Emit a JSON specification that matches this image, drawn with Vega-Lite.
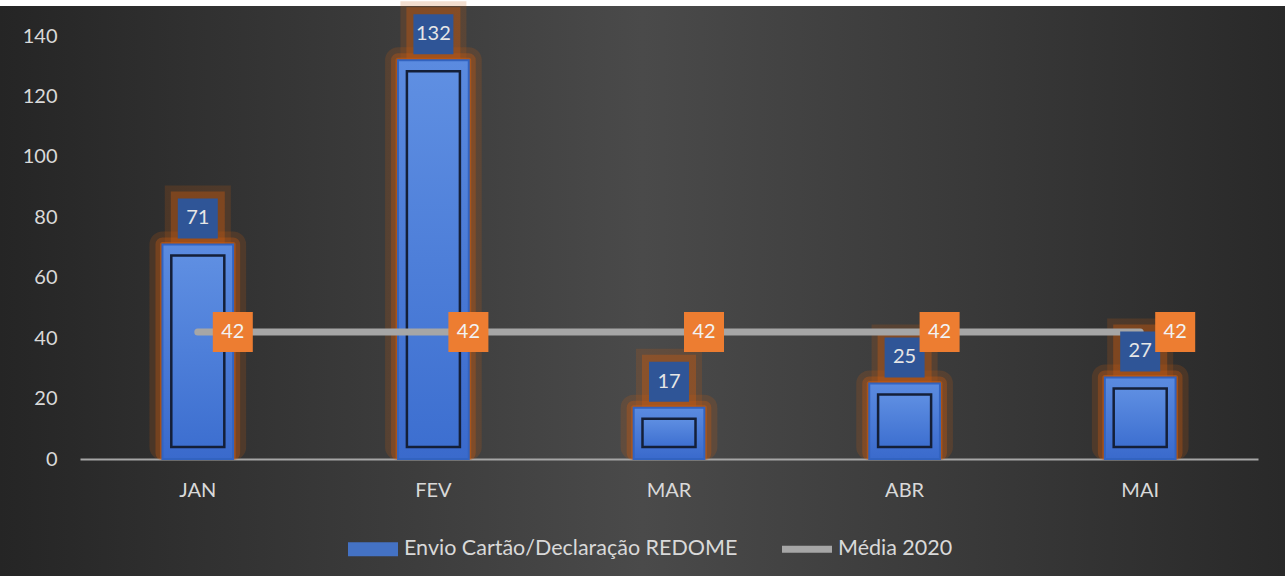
{
  "$schema": "https://vega.github.io/schema/vega-lite/v6.json",
  "autosize": {"type": "none"},
  "padding": {"left": 0, "top": 6, "right": 3, "bottom": 2},
  "width": 1285,
  "height": 570,
  "background": "#ffffff",
  "config": {
    "font": "Lato",
    "view": {
      "stroke": null,
      "fill": {
        "gradient": "linear", "x1": 0, "y1": 0.5, "x2": 1, "y2": 0.5,
        "stops": [
          {"offset": 0, "color": "#252525"},
          {"offset": 0.5, "color": "#4a4a4a"},
          {"offset": 1, "color": "#292929"}
        ]
      }
    }
  },
  "data": {
    "values": [
      {"mes": "JAN", "envio": 71, "media": 42},
      {"mes": "FEV", "envio": 132, "media": 42},
      {"mes": "MAR", "envio": 17, "media": 42},
      {"mes": "ABR", "envio": 25, "media": 42},
      {"mes": "MAI", "envio": 27, "media": 42}
    ]
  },
  "encoding": {
    "x": {
      "field": "mes", "type": "ordinal", "sort": null,
      "scale": {"range": [80, 1258], "paddingInner": 0.7, "paddingOuter": 0.35},
      "axis": {
        "title": null, "labelAngle": 0, "offset": -117, "ticks": false,
        "domainColor": "#a6a6a6", "domainWidth": 2, "labelColor": "#d9d9d9",
        "labelFontSize": 20, "labelPadding": 21
      }
    }
  },
  "layer": [
    {
      "mark": {"type": "bar", "width": {"band": 1}, "fill": "#c55a11", "fillOpacity": 0.25, "stroke": "#c55a11", "strokeWidth": 26, "strokeOpacity": 0.2, "strokeJoin": "round", "y2Offset": -12},
      "encoding": {
        "y": {
          "field": "envio", "type": "quantitative",
          "scale": {"domain": [0, 140], "range": [453, 30], "nice": false},
          "axis": {
            "title": null, "values": [0, 20, 40, 60, 80, 100, 120, 140], "grid": false,
            "domain": false, "ticks": false, "offset": -62, "labelPadding": 5,
            "labelColor": "#d9d9d9", "labelFontSize": 20
          }
        },
        "y2": {"datum": 0}
      }
    },
    {
      "mark": {"type": "bar", "width": {"band": 1}, "fill": "#c55a11", "fillOpacity": 0.35, "stroke": "#c55a11", "strokeWidth": 14, "strokeOpacity": 0.35, "strokeJoin": "round", "y2Offset": -6},
      "encoding": {"y": {"field": "envio", "type": "quantitative"}, "y2": {"datum": 0}}
    },
    {
      "mark": {"type": "bar", "width": {"band": 1}, "fill": "#c55a11", "fillOpacity": 0.45, "stroke": "#c55a11", "strokeWidth": 5, "strokeOpacity": 0.6, "strokeJoin": "round", "y2Offset": -2},
      "encoding": {"y": {"field": "envio", "type": "quantitative"}, "y2": {"datum": 0}}
    },
    {
      "mark": {"type": "point", "shape": "square", "filled": true, "size": 4356, "color": "#c55a11", "opacity": 0.2, "yOffset": -26},
      "encoding": {"y": {"field": "envio", "type": "quantitative"}}
    },
    {
      "mark": {"type": "point", "shape": "square", "filled": true, "size": 2916, "color": "#c55a11", "opacity": 0.4, "yOffset": -26},
      "encoding": {"y": {"field": "envio", "type": "quantitative"}}
    },
    {
      "mark": {
        "type": "bar", "width": {"band": 1}, "stroke": "#3263c0", "strokeWidth": 2,
        "fill": {
          "gradient": "linear", "x1": 0, "y1": 0, "x2": 0, "y2": 1,
          "stops": [{"offset": 0, "color": "#5b8be0"}, {"offset": 1, "color": "#3a6acc"}]
        }
      },
      "encoding": {"y": {"field": "envio", "type": "quantitative"}}
    },
    {
      "mark": {
        "type": "bar", "width": {"band": 0.75}, "yOffset": 11, "y2Offset": -12,
        "stroke": "#141f38", "strokeWidth": 2.5,
        "fill": {
          "gradient": "linear", "x1": 0, "y1": 0, "x2": 0, "y2": 1,
          "stops": [{"offset": 0, "color": "#5f8fe2"}, {"offset": 1, "color": "#3d6fd0"}]
        }
      },
      "encoding": {"y": {"field": "envio", "type": "quantitative"}, "y2": {"datum": 0}}
    },
    {
      "mark": {"type": "line", "strokeWidth": 7, "strokeCap": "round"},
      "encoding": {
        "y": {"field": "media", "type": "quantitative"},
        "color": {
          "datum": "Média 2020",
          "scale": {
            "domain": ["Envio Cartão/Declaração REDOME", "Média 2020"],
            "range": ["#4472c4", "#a6a6a6"]
          },
          "legend": {
            "title": null, "orient": "none", "direction": "horizontal",
            "legendX": 348, "legendY": 518,
            "symbolType": "M-1,-0.28H1V0.28H-1Z", "symbolSize": 2500,
            "labelFontSize": 21.5, "labelColor": "#d9d9d9", "labelOffset": 6,
            "labelLimit": 0, "columnPadding": 44,
            "encode": {
              "symbols": {
                "update": {
                  "fill": {"signal": "scale('color', datum.value)"},
                  "fillOpacity": {"value": 1},
                  "strokeWidth": {"value": 0},
                  "shape": {"signal": "datum.value == 'Média 2020' ? 'M-1,-0.14H1V0.14H-1Z' : 'M-1,-0.28H1V0.28H-1Z'"}
                }
              }
            }
          }
        }
      }
    },
    {
      "mark": {"type": "point", "shape": "square", "filled": true, "size": 1600, "color": "#2f5597", "opacity": 1, "yOffset": -26},
      "encoding": {"y": {"field": "envio", "type": "quantitative"}}
    },
    {
      "mark": {"type": "text", "fontSize": 20, "color": "#e6e6e6", "yOffset": -26},
      "encoding": {"y": {"field": "envio", "type": "quantitative"}, "text": {"field": "envio"}}
    },
    {
      "mark": {"type": "point", "shape": "square", "filled": true, "size": 1600, "color": "#ed7d31", "opacity": 1, "xOffset": 35},
      "encoding": {"y": {"field": "media", "type": "quantitative"}}
    },
    {
      "mark": {"type": "text", "fontSize": 20, "color": "#f2f2f2", "xOffset": 35},
      "encoding": {"y": {"field": "media", "type": "quantitative"}, "text": {"field": "media"}}
    }
  ]
}
